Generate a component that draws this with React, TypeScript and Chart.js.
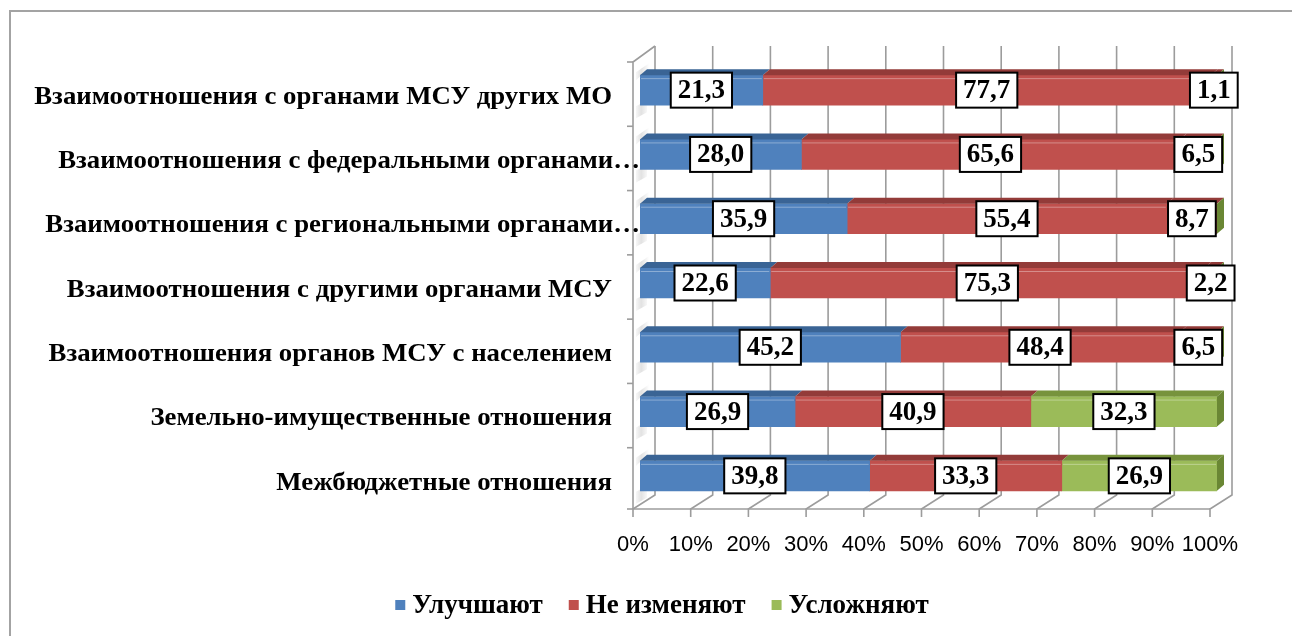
import React, { useEffect, useRef } from 'react';
import { Chart, registerables } from 'chart.js';

Chart.register(...registerables);

const categories = [
  'Взаимоотношения с органами МСУ других МО',
  'Взаимоотношения с федеральными органами…',
  'Взаимоотношения с региональными органами…',
  'Взаимоотношения с другими органами МСУ',
  'Взаимоотношения органов МСУ с населением',
  'Земельно-имущественные отношения',
  'Межбюджетные отношения',
];
const seriesNames = ['Улучшают', 'Не изменяют', 'Усложняют'];
const improve = [21.3, 28.0, 35.9, 22.6, 45.2, 26.9, 39.8];
const unchanged = [77.7, 65.6, 55.4, 75.3, 48.4, 40.9, 33.3];
const worse = [1.1, 6.5, 8.7, 2.2, 6.5, 32.3, 26.9];
const xTickLabels = ['0%', '10%', '20%', '30%', '40%', '50%', '60%', '70%', '80%', '90%', '100%'];

const BLUE = '#4F81BD';
const BLUE_TOP = '#3A6495';
const RED = '#C0504D';
const RED_TOP = '#933B39';
const GREEN = '#9BBB59';
const GREEN_TOP = '#77933C';
const GREEN_SIDE = '#6A8734';

// the "worse" points of the first five rows are painted like the "unchanged" series in the original
const worseFill = [RED, RED, RED, RED, RED, GREEN, GREEN];
const worseTop = [RED_TOP, RED_TOP, RED_TOP, RED_TOP, RED_TOP, GREEN_TOP, GREEN_TOP];

const SERIF = '"Liberation Serif", "Times New Roman", serif';
const SANS = '"Liberation Sans", Arial, sans-serif';

const rows = [improve, unchanged, worse];
const totals = categories.map((_, i) => improve[i] + unchanged[i] + worse[i]);
const pct = (arr: number[]) => arr.map((v, i) => (v / totals[i]) * 100);

function drawScaledText(ctx: CanvasRenderingContext2D, text: string, x: number, y: number, align: CanvasTextAlign, sx: number) {
  ctx.save();
  ctx.translate(x, y);
  ctx.scale(sx, 1);
  ctx.textAlign = align;
  ctx.textBaseline = 'middle';
  ctx.fillText(text, 0, 0);
  ctx.restore();
}

const BDX = 7; // bar depth
const BDY = 6;

const threeD = {
  id: 'threeD',
  beforeDatasetsDraw(chart: any) {
    const { ctx, chartArea: ca } = chart;
    const xs = chart.scales.x;
    const ys = chart.scales.y;
    ctx.save();
    // outer frame
    ctx.strokeStyle = '#a3a3a3';
    ctx.lineWidth = 2;
    ctx.beginPath();
    ctx.moveTo(10, 700);
    ctx.lineTo(10, 11);
    ctx.lineTo(1320, 11);
    ctx.stroke();

    const frontY = ca.bottom + 1;
    const backFloorY = ca.bottom - 13;
    const backTop = ca.top - 12;
    const wallTopFront = ca.top + 4;
    const fxOf = (v: number) => xs.getPixelForValue(v) - 7;
    const bxOf = (v: number) => xs.getPixelForValue(v) + 15;

    // soft shading on left wall around each bar
    categories.forEach((_, i) => {
      const cy = ys.getPixelForValue(i);
      const g = ctx.createLinearGradient(fxOf(0) + 2, 0, fxOf(0) + 16, 0);
      g.addColorStop(0, 'rgba(160,160,160,0.05)');
      g.addColorStop(0.45, 'rgba(160,160,160,0.3)');
      g.addColorStop(1, 'rgba(160,160,160,0.0)');
      ctx.fillStyle = g;
      ctx.beginPath();
      ctx.moveTo(fxOf(0) + 3, cy - 18);
      ctx.lineTo(fxOf(0) + 16, cy - 27);
      ctx.lineTo(fxOf(0) + 16, cy - 22);
      ctx.lineTo(fxOf(0) + 3, cy - 10);
      ctx.closePath();
      ctx.fill();
      ctx.beginPath();
      ctx.moveTo(fxOf(0) + 3, cy + 16);
      ctx.lineTo(fxOf(0) + 14, cy + 10);
      ctx.lineTo(fxOf(0) + 14, cy + 22);
      ctx.lineTo(fxOf(0) + 3, cy + 28);
      ctx.closePath();
      ctx.fill();
    });

    ctx.strokeStyle = '#9c9c9c';
    ctx.lineWidth = 1.6;
    const tickVals = xTickLabels.map((t) => parseFloat(t));
    tickVals.forEach((v) => {
      const bx = bxOf(v);
      const fx = fxOf(v);
      ctx.beginPath();
      ctx.moveTo(bx, backTop);
      ctx.lineTo(bx, backFloorY);
      ctx.lineTo(fx, frontY);
      ctx.lineTo(fx, frontY + 8);
      ctx.stroke();
    });
    // floor front edge
    ctx.beginPath();
    ctx.moveTo(fxOf(0), frontY);
    ctx.lineTo(fxOf(100), frontY);
    ctx.stroke();
    // left wall
    ctx.beginPath();
    ctx.moveTo(fxOf(0), frontY);
    ctx.lineTo(fxOf(0), wallTopFront);
    ctx.lineTo(bxOf(0), backTop);
    ctx.stroke();
    // category ticks on the left wall
    for (let k = 0; k <= categories.length; k++) {
      const yy = ca.top + (k * (ca.bottom - ca.top)) / categories.length + 4;
      ctx.beginPath();
      ctx.moveTo(fxOf(0) - 6, Math.min(yy, frontY));
      ctx.lineTo(fxOf(0), Math.min(yy, frontY));
      ctx.stroke();
    }

    // x tick labels
    ctx.fillStyle = '#000';
    ctx.font = `22px ${SANS}`;
    tickVals.forEach((v, i) => {
      drawScaledText(ctx, xTickLabels[i], fxOf(v), frontY + 36, 'center', 1);
    });

    // category labels
    ctx.font = `bold 26px ${SERIF}`;
    categories.forEach((c, i) => {
      const cy = ys.getPixelForValue(i) + 7;
      const right = c.endsWith('…') ? 640 : 612;
      drawScaledText(ctx, c, right, cy, 'right', 1.03);
    });
    ctx.restore();
  },
  afterDatasetsDraw(chart: any) {
    const { ctx } = chart;
    const n = chart.data.datasets.length;
    const tops = [categories.map(() => BLUE_TOP), categories.map(() => RED_TOP), worseTop];
    ctx.save();
    for (let d = 0; d < n; d++) {
      const meta = chart.getDatasetMeta(d);
      meta.data.forEach((el: any, i: number) => {
        const p = el.getProps(['x', 'y', 'base', 'height'], true);
        const x0 = Math.min(p.base, p.x);
        const x1 = Math.max(p.base, p.x);
        const top = p.y - p.height / 2;
        const bot = p.y + p.height / 2;
        ctx.fillStyle = tops[d][i];
        ctx.beginPath();
        ctx.moveTo(x0, top);
        ctx.lineTo(x0 + BDX, top - BDY);
        ctx.lineTo(x1 + BDX, top - BDY);
        ctx.lineTo(x1, top);
        ctx.closePath();
        ctx.fill();
        // highlight
        ctx.strokeStyle = 'rgba(255,255,255,0.35)';
        ctx.lineWidth = 1;
        ctx.beginPath();
        ctx.moveTo(x0 + 1, top + 3.5);
        ctx.lineTo(x1 - 1, top + 3.5);
        ctx.stroke();
        if (d === n - 1) {
          ctx.fillStyle = GREEN_SIDE;
          ctx.beginPath();
          ctx.moveTo(x1, top);
          ctx.lineTo(x1 + BDX, top - BDY);
          ctx.lineTo(x1 + BDX, bot - BDY);
          ctx.lineTo(x1, bot);
          ctx.closePath();
          ctx.fill();
        }
      });
    }
    // data labels
    ctx.font = `bold 27px ${SERIF}`;
    for (let d = 0; d < n; d++) {
      const meta = chart.getDatasetMeta(d);
      meta.data.forEach((el: any, i: number) => {
        const p = el.getProps(['x', 'y', 'base'], true);
        const cx = (p.base + p.x) / 2;
        const cy = p.y;
        const txt = rows[d][i].toFixed(1).replace('.', ',');
        const w = ctx.measureText(txt).width + 14;
        const h = 35;
        ctx.fillStyle = '#fff';
        ctx.fillRect(cx - w / 2, cy - h / 2, w, h);
        ctx.strokeStyle = '#000';
        ctx.lineWidth = 2;
        ctx.strokeRect(cx - w / 2, cy - h / 2, w, h);
        ctx.fillStyle = '#000';
        drawScaledText(ctx, txt, cx, cy + 1, 'center', 1);
      });
    }
    // legend
    const legendColors = [BLUE, RED, GREEN];
    ctx.font = `bold 27px ${SERIF}`;
    const widths = seriesNames.map((s) => ctx.measureText(s).width);
    const gap = 26;
    const total = widths.reduce((a, b) => a + b, 0) + seriesNames.length * 17 + gap * (seriesNames.length - 1);
    let lx = 662 - total / 2;
    const ly = 606;
    seriesNames.forEach((s, k) => {
      ctx.fillStyle = legendColors[k];
      ctx.fillRect(lx, ly - 6, 10, 10);
      ctx.fillStyle = '#000';
      drawScaledText(ctx, s, lx + 17, ly, 'left', 1);
      lx += 17 + widths[k] + gap;
    });
    ctx.restore();
  },
};

export default function App() {
  const ref = useRef<HTMLCanvasElement | null>(null);
  useEffect(() => {
    document.body.style.margin = '0';
    document.body.style.overflow = 'hidden';
    const canvas = ref.current;
    if (!canvas) return;
    const chart = new Chart(canvas, {
      type: 'bar',
      data: {
        labels: categories,
        datasets: [
          { label: seriesNames[0], data: pct(improve), backgroundColor: BLUE, borderWidth: 0 },
          { label: seriesNames[1], data: pct(unchanged), backgroundColor: RED, borderWidth: 0 },
          { label: seriesNames[2], data: pct(worse), backgroundColor: worseFill, borderWidth: 0 },
        ],
      },
      options: {
        indexAxis: 'y',
        animation: false,
        responsive: false,
        maintainAspectRatio: false,
        layout: { padding: { left: 640, right: 75, top: 58, bottom: 128 } },
        datasets: { bar: { barThickness: 30 } },
        plugins: { legend: { display: false }, tooltip: { enabled: false } },
        scales: {
          x: { stacked: true, min: 0, max: 100, display: false },
          y: { stacked: true, display: false },
        },
      },
      plugins: [threeD],
    });
    return () => chart.destroy();
  }, []);
  return (
    <canvas ref={ref} width={1292} height={636} style={{ display: 'block', width: 1292, height: 636 }} />
  );
}
